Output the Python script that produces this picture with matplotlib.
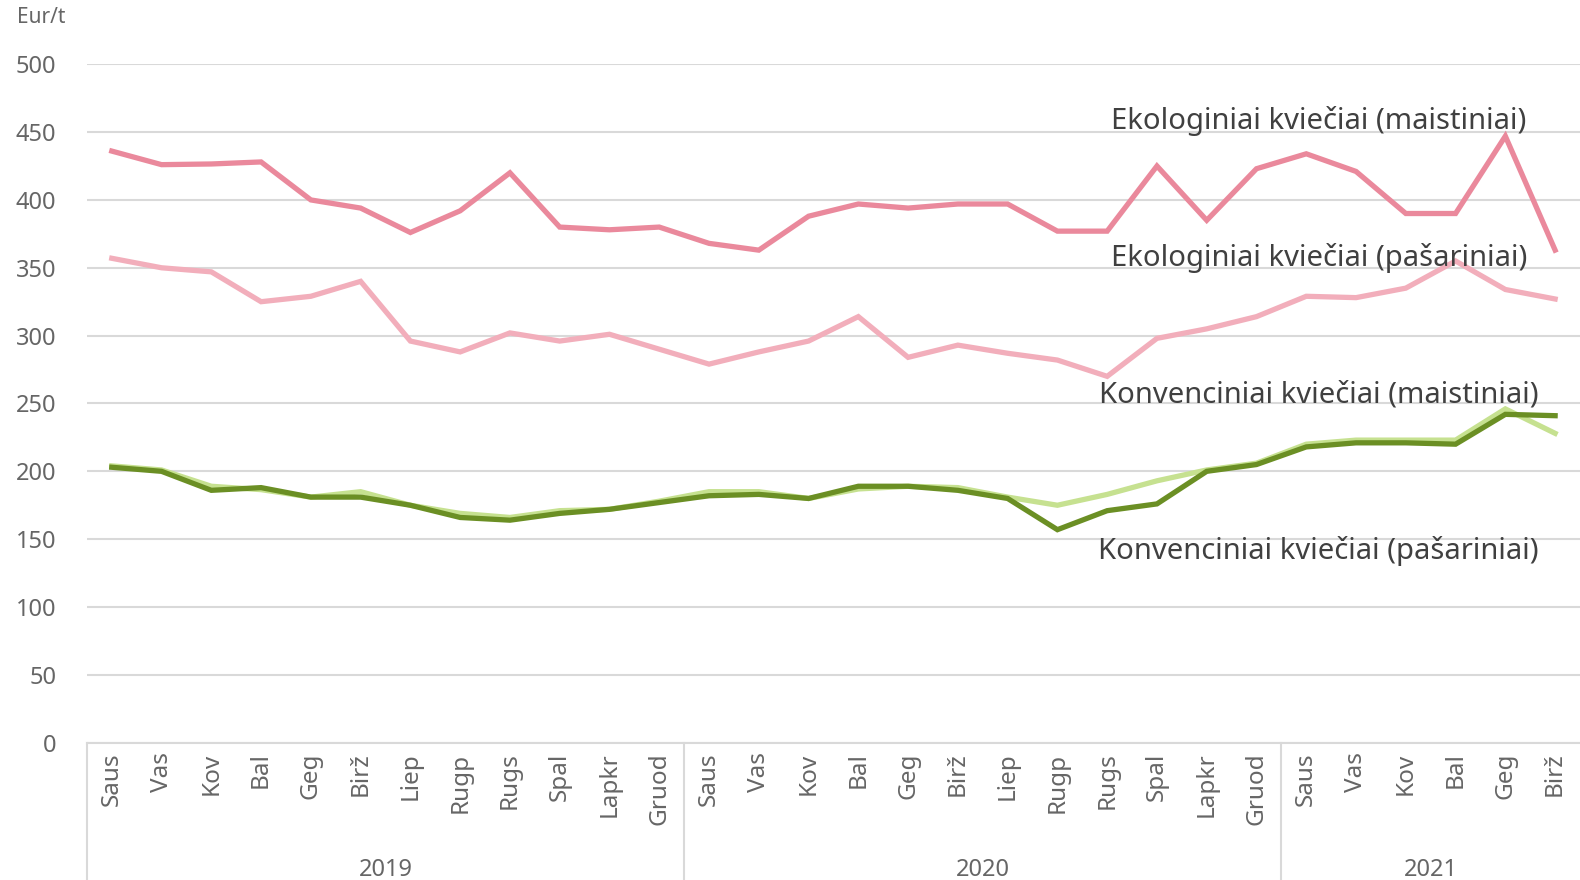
import matplotlib
matplotlib.use("Agg")
import matplotlib.pyplot as plt
import matplotlib.transforms as mtransforms

plt.rcParams["font.family"] = ["Noto Sans", "DejaVu Sans"]

# ---- data ----
months = ["Saus", "Vas", "Kov", "Bal", "Geg", "Birž", "Liep", "Rugp", "Rugs", "Spal", "Lapkr", "Gruod",
          "Saus", "Vas", "Kov", "Bal", "Geg", "Birž", "Liep", "Rugp", "Rugs", "Spal", "Lapkr", "Gruod",
          "Saus", "Vas", "Kov", "Bal", "Geg", "Birž"]
years = ["2019", "2020", "2021"]
year_len = [12, 12, 6]

eko_maist = [436, 426, 426.5, 428, 400, 394, 376, 392, 420, 380, 378, 380,
             368, 363, 388, 397, 394, 397, 397, 377, 377, 425, 385, 423,
             434, 421, 390, 390, 447, 363]
eko_pas = [357, 350, 347, 325, 329, 340, 296, 288, 302, 296, 301, 290,
           279, 288, 296, 314, 284, 293, 287, 282, 270, 298, 305, 314,
           329, 328, 335, 355, 334, 327]
konv_maist = [204, 201, 189, 186.5, 181, 185, 175, 169, 166, 171, 172, 178,
              185, 185, 180, 187, 189, 188, 181, 175, 183, 193, 201, 206,
              220, 223, 223, 223, 246, 228]
konv_pas = [203, 200, 186, 188, 181, 181, 175, 166, 164, 169, 172, 177,
            182, 183, 180, 189, 189, 186, 180, 157, 171, 176, 200, 205,
            218, 221, 221, 220, 242, 241]

series = [
    ("Ekologiniai kviečiai (maistiniai)", eko_maist, "#EA899C", 458),
    ("Ekologiniai kviečiai (pašariniai)", eko_pas, "#F2AEBB", 357),
    ("Konvenciniai kviečiai (maistiniai)", konv_maist, "#C6E190", 256),
    ("Konvenciniai kviečiai (pašariniai)", konv_pas, "#6B8F24", 141),
]

fig = plt.figure(figsize=(15.8, 8.8), dpi=100)
ax = fig.add_axes([0.055, 0.156, 0.945, 0.771])

x = list(range(len(months)))
for name, vals, col, ly in series:
    ax.plot(x, vals, color=col, lw=3.8, solid_joinstyle="miter", zorder=3)
    ax.text(24.25, ly, name, ha="center", va="center", fontsize=21, color="#404040", zorder=4)

ax.set_xlim(-0.5, len(months) - 0.5)
ax.set_ylim(0, 500)
ax.set_yticks(range(0, 501, 50))
ax.tick_params(axis="y", length=0, labelsize=17, labelcolor="#666666", pad=22)
ax.grid(axis="y", color="#D9D9D9", lw=1.5)
ax.set_axisbelow(True)
for s in ["top", "right", "left"]:
    ax.spines[s].set_visible(False)
ax.spines["bottom"].set_color("#D9D9D9")
ax.spines["bottom"].set_linewidth(1.5)

ax.set_xticks(x)
ax.set_xticklabels(months, rotation=90, fontsize=17.5, color="#666666")
ax.tick_params(axis="x", length=0, pad=7)

# year groups below the axis
trans = mtransforms.blended_transform_factory(ax.transData, ax.transAxes)
start = -0.5
for yr, n in zip(years, year_len):
    ax.plot([start, start], [0, -0.21], transform=trans, color="#D9D9D9", lw=1.5, clip_on=False)
    ax.text(start + n / 2, -0.187, yr, transform=trans, ha="center", va="center",
            fontsize=17, color="#666666")
    start += n

fig.text(0.011, 0.98, "Eur/t", ha="left", va="center", fontsize=15, color="#666666")

fig.savefig("out.png", dpi=100)
